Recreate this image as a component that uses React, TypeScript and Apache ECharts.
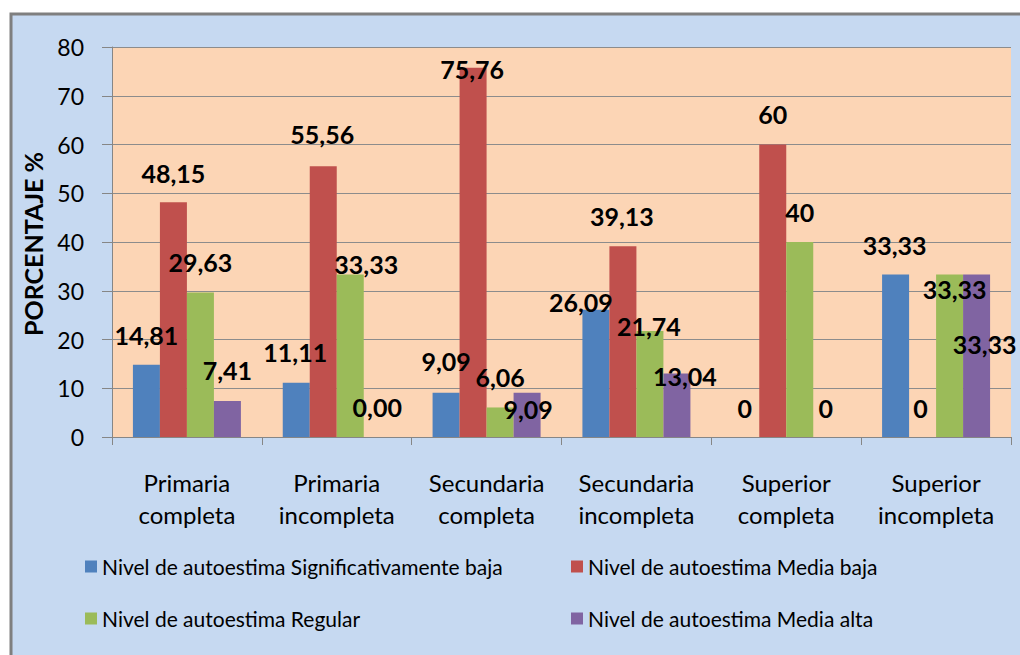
import React, { useEffect, useRef } from "react";
import * as echarts from "echarts";

const categories = [
  "Primaria\ncompleta",
  "Primaria\nincompleta",
  "Secundaria\ncompleta",
  "Secundaria\nincompleta",
  "Superior\ncompleta",
  "Superior\nincompleta",
];

const seriesNames = [
  "Nivel de autoestima Significativamente baja",
  "Nivel de autoestima Media baja",
  "Nivel de autoestima Regular",
  "Nivel de autoestima Media alta",
];

const sigBaja = [14.81, 11.11, 9.09, 26.09, 0, 33.33];
const mediaBaja = [48.15, 55.56, 75.76, 39.13, 60, 0];
const regular = [29.63, 33.33, 6.06, 21.74, 40, 33.33];
const mediaAlta = [7.41, 0, 9.09, 13.04, 0, 33.33];

const sigBajaText = ["14,81", "11,11", "9,09", "26,09", "0", "33,33"];
const mediaBajaText = ["48,15", "55,56", "75,76", "39,13", "60", "0"];
const regularText = ["29,63", "33,33", "6,06", "21,74", "40", "33,33"];
const mediaAltaText = ["7,41", "0,00", "9,09", "13,04", "0", "33,33"];

const yTicks = [0, 10, 20, 30, 40, 50, 60, 70, 80];

// label placement (style), relative to each bar top
const labelOffsets = [
  [[0, -30], [-1, -31], [0, -32], [-15, -8], [-1, -29], [-1, -30]],
  [[0, -29], [-1, -32], [-1, 1], [-1, -30], [0, -31], [-2, -29]],
  [[0, -31], [16, -11], [0, -30], [-1, -5], [0, -30], [5, 14]],
  [[0, -31], [0, -30], [1, 16], [8, 3], [-1, -29], [8, 69]],
];

const colors = ["#4f81bd", "#c0504d", "#9bbb59", "#8064a2"];
const FONT = "Lato, 'Open Sans', sans-serif";

export default function App() {
  const ref = useRef<HTMLDivElement>(null);

  useEffect(() => {
    if (!ref.current) return;
    const chart = echarts.init(ref.current, null, { renderer: "svg" });
    const values = [sigBaja, mediaBaja, regular, mediaAlta];
    const texts = [sigBajaText, mediaBajaText, regularText, mediaAltaText];

    const series = values.map((vals, s) => ({
      name: seriesNames[s],
      type: "bar",
      barWidth: 27,
      barGap: "0%",
      itemStyle: { color: colors[s] },
      label: {
        show: true,
        position: "top",
        distance: 0,
        verticalAlign: "middle",
        fontFamily: FONT,
        fontSize: 25,
        fontWeight: "bold",
        color: "#000",
      },
      data: vals.map((v, i) => ({
        value: v,
        label: { offset: labelOffsets[s][i], formatter: texts[s][i] },
      })),
      z: 2,
    }));

    const legendText = { fontFamily: FONT, fontSize: 21, color: "#000", lineHeight: 20 };

    chart.setOption({
      animation: false,
      color: colors,
      graphic: [
        {
          type: "rect",
          shape: { x: 11, y: 14, width: 1040, height: 700 },
          style: { fill: "#c6d9f1", stroke: "#7f7f7f", lineWidth: 3 },
          z: -10,
          silent: true,
        },
        {
          type: "text",
          x: 33,
          y: 244,
          rotation: Math.PI / 2,
          style: {
            text: "PORCENTAJE %",
            fontFamily: FONT,
            fontSize: 25,
            fontWeight: "bold",
            fill: "#000",
            align: "center",
            verticalAlign: "middle",
          },
        },
      ],
      grid: {
        left: 112,
        top: 47,
        width: 899,
        height: 390,
        show: true,
        backgroundColor: "#fcd5b5",
        borderWidth: 0,
      },
      legend: [
        {
          orient: "vertical",
          left: 85,
          top: 556,
          padding: 0,
          icon: "rect",
          itemWidth: 12,
          itemHeight: 12,
          itemGap: 31,
          data: [seriesNames[0], seriesNames[2]],
          textStyle: legendText,
        },
        {
          orient: "vertical",
          left: 571,
          top: 556,
          padding: 0,
          icon: "rect",
          itemWidth: 12,
          itemHeight: 12,
          itemGap: 31,
          data: [seriesNames[1], seriesNames[3]],
          textStyle: legendText,
        },
      ],
      xAxis: {
        type: "category",
        data: categories,
        axisLine: { lineStyle: { color: "#868686", width: 1 } },
        axisTick: { show: true, length: 8, lineStyle: { color: "#868686" } },
        axisLabel: {
          fontFamily: FONT,
          fontSize: 24,
          color: "#000",
          lineHeight: 32,
          margin: 29,
          interval: 0,
        },
      },
      yAxis: {
        type: "value",
        min: yTicks[0],
        max: yTicks[yTicks.length - 1],
        interval: 10,
        axisLine: { show: true, lineStyle: { color: "#868686", width: 1 } },
        axisTick: { show: true, length: 10, lineStyle: { color: "#868686" } },
        axisLabel: {
          fontFamily: FONT,
          fontSize: 23,
          color: "#000",
          margin: 28,
        },
        splitLine: { show: true, lineStyle: { color: "#8c8c8c", width: 1 } },
      },
      series,
    });

    return () => chart.dispose();
  }, []);

  return (
    <div
      ref={ref}
      style={{ position: "absolute", left: 0, top: 0, width: 1020, height: 655, background: "#fff" }}
    />
  );
}
